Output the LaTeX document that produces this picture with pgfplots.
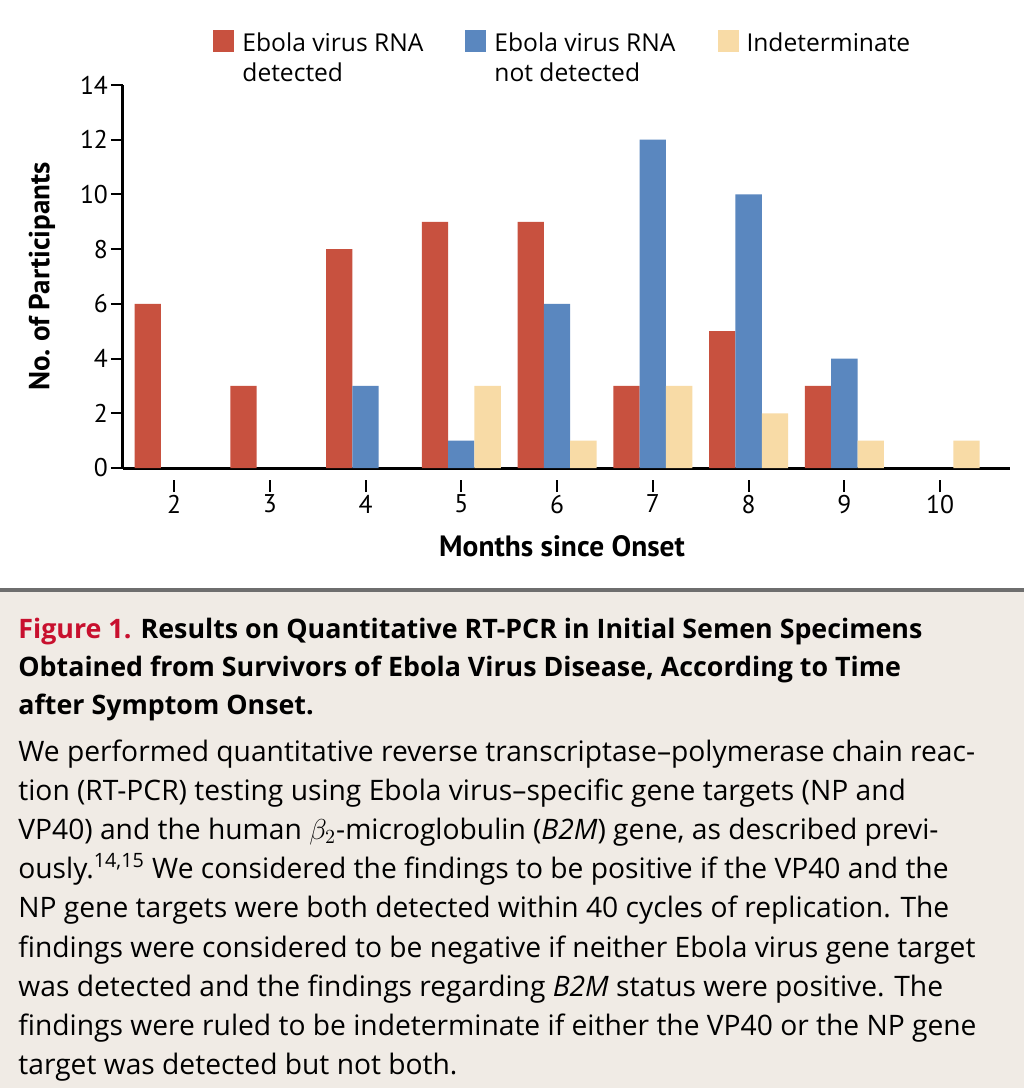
\documentclass[border=0pt]{standalone}
\usepackage{fontspec}
\setmainfont{PT Sans}
\newfontfamily\capfont{Open Sans}
\usepackage{pgfplots}
\pgfplotsset{compat=1.18}
\definecolor{cred}{HTML}{C8513F}
\definecolor{cblue}{HTML}{5A87BF}
\definecolor{cyel}{HTML}{F8DBA6}
\definecolor{beige}{HTML}{F0EBE5}
\definecolor{rulegray}{HTML}{6E6E6E}
\definecolor{figred}{HTML}{C8102E}
\begin{document}
\begin{tikzpicture}[x=0.5pt,y=0.5pt]
\path[use as bounding box] (0,0) rectangle (1024,-1088);
\fill[white] (0,0) rectangle (1024,-1088);
\fill[beige] (0,-590) rectangle (1024,-1088);
\fill[rulegray] (0,-588) rectangle (1024,-592);
\begin{axis}[
  at={(61.5pt,-234pt)}, anchor=south west, scale only axis,
  width=443.5pt, height=191.5pt,
  xmin=1.467, xmax=10.73, ymin=0, ymax=14,
  axis lines=left, axis line style={line width=1.5pt, -},
  ybar, bar width=0.275,
  xtick={2,...,10}, ytick={0,2,...,14},
  tick style={line width=1pt, black}, major tick length=6pt, tick align=outside,
  every major x tick/.append style={yshift=-6pt},
  /pgf/number format/assume math mode=true,
  ticklabel style={font=\fontsize{12.8}{14}\selectfont},
  xticklabel style={yshift=-4pt},
  yticklabel style={xshift=2pt},
  ylabel={\bfseries No.\ of Participants},
  ylabel style={at={(axis description cs:-0.0913,0.5)}, anchor=center, font=\fontsize{14.5}{16}\selectfont},
  xlabel={\bfseries Months since Onset},
  xlabel style={at={(axis description cs:0.495,-0.2037)}, anchor=center, font=\fontsize{14.7}{16}\selectfont},
  legend style={at={(axis description cs:0.1015,1.15)}, anchor=north west, draw=none, fill=none, inner sep=0pt,
    font=\capfont\fontsize{12.3}{15.2}\selectfont, cells={align=left, anchor=north west},
    /tikz/every even column/.append style={column sep=19pt},
    /tikz/every odd column/.append style={column sep=2pt}},
  legend columns=-1,
]
\addplot[fill=cred, draw=none, bar shift=-0.275,
  legend image code/.code={\fill[cred] (0pt,-12pt) rectangle (10.5pt,-1pt);}]
  coordinates {(2,6) (3,3) (4,8) (5,9) (6,9) (7,3) (8,5) (9,3)};
\addplot[fill=cblue, draw=none, bar shift=0,
  legend image code/.code={\fill[cblue] (0pt,-12pt) rectangle (10.5pt,-1pt);}]
  coordinates {(4,3) (5,1) (6,6) (7,12) (8,10) (9,4)};
\addplot[fill=cyel, draw=none, bar shift=0.275,
  legend image code/.code={\fill[cyel] (0pt,-12pt) rectangle (10.5pt,-1pt);}]
  coordinates {(5,3) (6,1) (7,3) (8,2) (9,1) (10,1)};
\legend{{Ebola virus RNA\\detected},{Ebola virus RNA\\not detected},{Indeterminate}}
\end{axis}
\begin{scope}[every node/.style={anchor=base west, inner sep=0pt}]
\node[font=\capfont\fontsize{13.4}{15}\selectfont\bfseries] at (18,-638) {\textcolor{figred}{Figure 1.} Results on Quantitative RT-PCR in Initial Semen Specimens};
\node[font=\capfont\fontsize{13.4}{15}\selectfont\bfseries] at (18,-676) {Obtained from Survivors of Ebola Virus Disease, According to Time};
\node[font=\capfont\fontsize{13.4}{15}\selectfont\bfseries] at (18,-714) {after Symptom Onset.};
\node[font=\capfont\fontsize{14.1}{17}\selectfont] at (18,-761) {We performed quantitative reverse transcriptase–polymerase chain reac-};
\node[font=\capfont\fontsize{14.1}{17}\selectfont] at (18,-800) {tion (RT-PCR) testing using Ebola virus–specific gene targets (NP and};
\node[font=\capfont\fontsize{14.1}{17}\selectfont] at (18,-839) {VP40) and the human $\beta_2$-microglobulin (\textit{B2M}) gene, as described previ-};
\node[font=\capfont\fontsize{14.1}{17}\selectfont] at (18,-878) {ously.\textsuperscript{14,15} We considered the findings to be positive if the VP40 and the};
\node[font=\capfont\fontsize{14.1}{17}\selectfont] at (18,-917) {NP gene targets were both detected within 40 cycles of replication. The};
\node[font=\capfont\fontsize{14.1}{17}\selectfont] at (18,-957) {findings were considered to be negative if neither Ebola virus gene target};
\node[font=\capfont\fontsize{14.1}{17}\selectfont] at (18,-996) {was detected and the findings regarding \textit{B2M} status were positive. The};
\node[font=\capfont\fontsize{14.1}{17}\selectfont] at (18,-1035) {findings were ruled to be indeterminate if either the VP40 or the NP gene};
\node[font=\capfont\fontsize{14.1}{17}\selectfont] at (18,-1074) {target was detected but not both.};
\end{scope}
\end{tikzpicture}
\end{document}
